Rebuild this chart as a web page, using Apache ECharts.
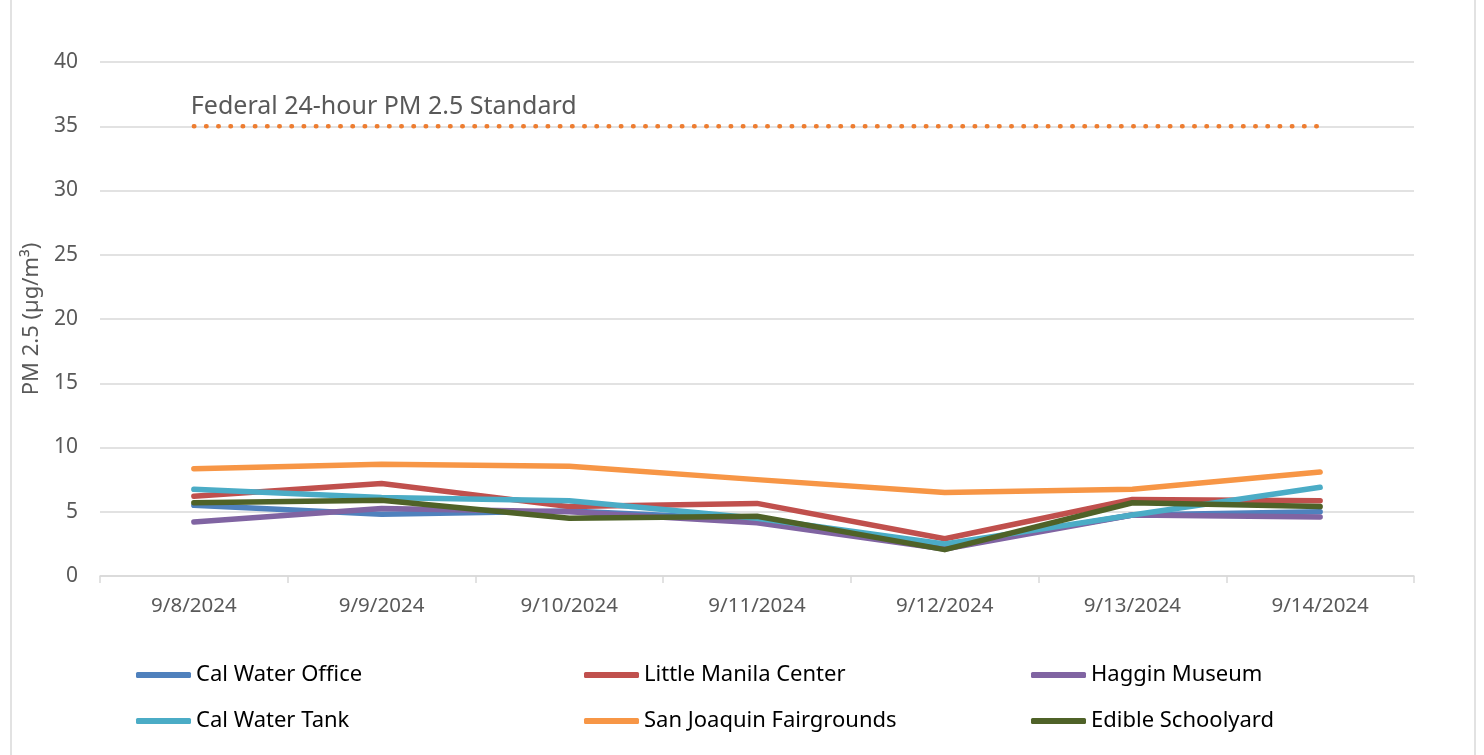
<!DOCTYPE html>
<html>
<head>
<meta charset="utf-8">
<script src="https://cdn.jsdelivr.net/npm/echarts@6/dist/echarts.min.js"></script>
<style>
  html, body { margin: 0; padding: 0; background: #fff; }
  #chart { width: 1484px; height: 755px; }
</style>
</head>
<body>
<div id="chart"></div>
<script>
// data
var dates = ['9/8/2024', '9/9/2024', '9/10/2024', '9/11/2024', '9/12/2024', '9/13/2024', '9/14/2024'];
var calWaterOffice   = [5.5, 4.8, 5.05, 4.4, 2.3, 4.75, 5.0];
var littleManila     = [6.2, 7.2, 5.4, 5.65, 2.9, 5.95, 5.85];
var hagginMuseum     = [4.2, 5.25, 5.0, 4.15, 2.1, 4.75, 4.6];
var calWaterTank     = [6.75, 6.1, 5.85, 4.5, 2.5, 4.75, 6.9];
var sanJoaquin       = [8.35, 8.7, 8.55, 7.5, 6.5, 6.75, 8.1];
var edibleSchoolyard = [5.7, 5.9, 4.5, 4.65, 2.05, 5.7, 5.4];
var standard         = [35, 35, 35, 35, 35, 35, 35];
var standardName = 'Federal 24-hour PM 2.5 Standard';

var font = 'Noto Sans';
var myChart = echarts.init(document.getElementById('chart'));

function station(name, data, color) {
  return {
    name: name,
    type: 'line',
    data: data,
    symbol: 'none',
    color: color,
    lineStyle: { width: 5.5, color: color, cap: 'round', join: 'round' },
    emphasis: { disabled: true }
  };
}

function legendCol(left, names) {
  return {
    orient: 'vertical',
    left: left,
    top: 659,
    data: names,
    icon: 'roundRect',
    itemWidth: 55,
    itemHeight: 6,
    itemGap: 24,
    textStyle: { fontFamily: font, fontSize: 22, color: '#000' },
    selectedMode: false
  };
}

var option = {
  animation: false,
  backgroundColor: '#fff',
  grid: { left: 100, right: 70, top: 62, bottom: 179 },
  legend: [
    legendCol(131, ['Cal Water Office', 'Cal Water Tank']),
    legendCol(579, ['Little Manila Center', 'San Joaquin Fairgrounds']),
    legendCol(1026, ['Haggin Museum', 'Edible Schoolyard'])
  ],
  xAxis: {
    type: 'category',
    data: dates,
    boundaryGap: true,
    axisLine: { lineStyle: { color: '#d9d9d9', width: 1.5 } },
    axisTick: { show: true, length: 7, lineStyle: { color: '#d9d9d9', width: 1.5 } },
    axisLabel: { fontFamily: font, fontSize: 20.5, color: '#595959', margin: 20 }
  },
  yAxis: {
    type: 'value',
    min: 0,
    max: 40,
    interval: 5,
    name: 'PM 2.5 (µg/m³)',
    nameLocation: 'middle',
    nameGap: 56,
    nameTextStyle: { fontFamily: font, fontSize: 22, color: '#595959' },
    axisLine: { show: false },
    axisTick: { show: false },
    axisLabel: { fontFamily: font, fontSize: 21, color: '#595959', margin: 22 },
    splitLine: { lineStyle: { color: '#d9d9d9', width: 1.5 } }
  },
  series: [
    station('Cal Water Office', calWaterOffice, '#4F81BD'),
    station('Little Manila Center', littleManila, '#C0504D'),
    station('Haggin Museum', hagginMuseum, '#8064A2'),
    station('Cal Water Tank', calWaterTank, '#4BACC6'),
    station('San Joaquin Fairgrounds', sanJoaquin, '#F79646'),
    station('Edible Schoolyard', edibleSchoolyard, '#4F6228'),
    {
      name: standardName,
      type: 'line',
      data: standard,
      symbol: 'none',
      color: '#ED7D31',
      lineStyle: { width: 4.5, color: '#ED7D31', type: [0.5, 11.7], cap: 'round' },
      emphasis: { disabled: true }
    }
  ]
};
myChart.setOption(option);

// label sits above the start of the standard line
var p = myChart.convertToPixel({ xAxisIndex: 0, yAxisIndex: 0 }, [0, standard[0]]);
myChart.setOption({
  graphic: [
    {
      type: 'rect',
      silent: true,
      shape: { x: 11, y: -5, width: 1464, height: 770 },
      style: { fill: 'none', stroke: '#d9d9d9', lineWidth: 1.5 }
    },
    {
      type: 'text',
      silent: true,
      x: p[0] - 3,
      y: p[1] - 7,
      style: {
        text: standardName,
        font: '25px "' + font + '"',
        fill: '#595959',
        textVerticalAlign: 'bottom'
      }
    }
  ]
});
</script>
</body>
</html>
